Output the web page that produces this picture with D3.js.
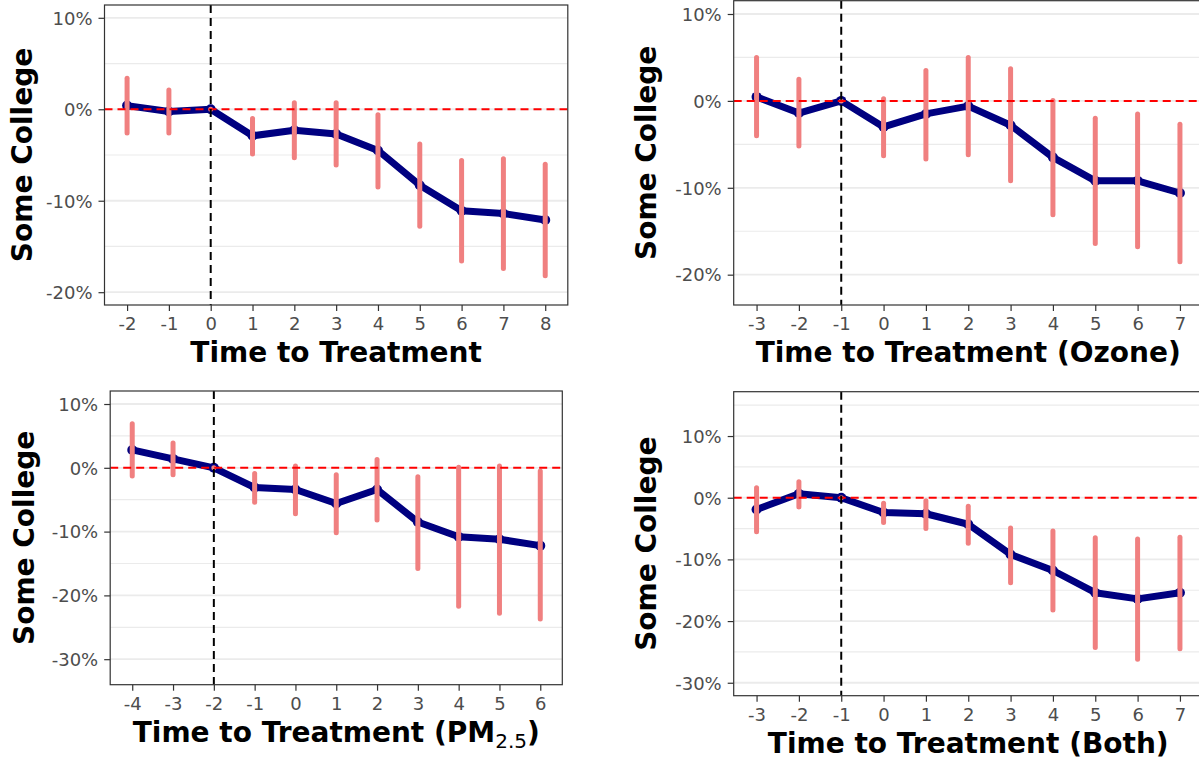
<!DOCTYPE html>
<html>
<head>
<meta charset="utf-8">
<script src="https://cdn.jsdelivr.net/npm/d3@7"></script>
<style>
  html, body { margin: 0; padding: 0; background: #fff; }
  svg { display: block; }
  text { font-family: "DejaVu Sans", sans-serif; }
</style>
</head>
<body>
<svg id="fig" width="1199" height="763"></svg>
<script>
// Event-study estimates (percent) with 95% intervals, one set per treatment definition.

// Any treatment
const periodsAll = [-2, -1, 0, 1, 2, 3, 4, 5, 6, 7, 8];
const estAll = [0.4, -0.25, 0, -2.9, -2.3, -2.7, -4.5, -8.3, -11.1, -11.4, -12.1];
const loAll  = [-2.6, -2.6, 0, -4.9, -5.3, -6.1, -8.5, -12.8, -16.6, -17.4, -18.2];
const hiAll  = [3.4, 2.1, 0, -1.0, 0.7, 0.7, -0.6, -3.8, -5.6, -5.4, -6.0];

// Ozone
const periodsOzone = [-3, -2, -1, 0, 1, 2, 3, 4, 5, 6, 7];
const estOzone = [0.46, -1.4, 0, -3.0, -1.5, -0.6, -2.8, -6.5, -9.2, -9.2, -10.6];
const loOzone  = [-4.0, -5.2, 0, -6.3, -6.7, -6.2, -9.2, -13.1, -16.4, -16.8, -18.5];
const hiOzone  = [5.0, 2.5, 0, 0.25, 3.5, 5.0, 3.7, 0.05, -2.0, -1.5, -2.7];

// PM2.5
const periodsPM = [-4, -3, -2, -1, 0, 1, 2, 3, 4, 5, 6];
const estPM = [2.8, 1.4, 0, -3.1, -3.4, -5.6, -3.4, -8.5, -10.8, -11.2, -12.2];
const loPM  = [-1.3, -1.1, 0, -5.4, -7.2, -10.2, -8.2, -15.8, -21.7, -22.8, -23.7];
const hiPM  = [6.9, 3.9, 0, -0.9, 0.3, -1.1, 1.3, -1.4, 0.1, 0.3, -0.5];

// Both pollutants
const periodsBoth = [-3, -2, -1, 0, 1, 2, 3, 4, 5, 6, 7];
const estBoth = [-1.9, 0.65, 0, -2.4, -2.6, -4.3, -9.2, -11.8, -15.4, -16.4, -15.4];
const loBoth  = [-5.5, -1.5, 0, -4.0, -5.0, -7.4, -13.8, -18.2, -24.3, -26.2, -24.5];
const hiBoth  = [1.6, 2.6, 0, -0.9, -0.5, -1.4, -4.9, -5.4, -6.5, -6.7, -6.4];

// Axis ticks
const yTicksA = [10, 0, -10, -20];
const yMinorA = [5, -5, -15];
const yTicksB = [10, 0, -10, -20, -30];
const yMinorPM = [5, -5, -15, -25];
const yMinorBoth = [15, 5, -5, -15, -25];

const ylabel = "Some College";
const xPad = 0.54; // horizontal padding around the first/last period, in periods

const panels = [
  { periods: periodsAll, est: estAll, lo: loAll, hi: hiAll, ref: 0,
    yTicks: yTicksA, yMinor: yMinorA,
    frame: { left: 104.5, right: 567.8, top: 5, bottom: 305 },
    yDomain: [-21.4, 11.4],
    title: ["Time to Treatment"], yTitleX: 32 },
  { periods: periodsOzone, est: estOzone, lo: loOzone, hi: hiOzone, ref: -1,
    yTicks: yTicksA, yMinor: yMinorA,
    frame: { left: 733.7, right: 1202.8, top: 0.7, bottom: 305 },
    yDomain: [-23.49, 11.53],
    title: ["Time to Treatment (Ozone)"], yTitleX: 656 },
  { periods: periodsPM, est: estPM, lo: loPM, hi: hiPM, ref: -2,
    yTicks: yTicksB, yMinor: yMinorPM,
    frame: { left: 110.2, right: 562.3, top: 391, bottom: 684.7 },
    yDomain: [-34.0, 12.04],
    title: ["Time to Treatment (PM", "2.5", ")"], yTitleX: 34 },
  { periods: periodsBoth, est: estBoth, lo: loBoth, hi: hiBoth, ref: -1,
    yTicks: yTicksB, yMinor: yMinorBoth,
    frame: { left: 733.7, right: 1202.8, top: 391.7, bottom: 695.7 },
    yDomain: [-32.1, 17.19],
    title: ["Time to Treatment (Both)"], yTitleX: 656 }
];

const svg = d3.select("#fig");
svg.append("rect").attr("width", 1199).attr("height", 763).attr("fill", "#fff");

panels.forEach((p, i) => {
  const f = p.frame;
  const [pMin, pMax] = d3.extent(p.periods);
  const x = d3.scaleLinear().domain([pMin - xPad, pMax + xPad]).range([f.left, f.right]);
  const y = d3.scaleLinear().domain(p.yDomain).range([f.bottom, f.top]);
  const g = svg.append("g").attr("class", "panel-" + i);

  const clipId = "clip" + i;
  g.append("clipPath").attr("id", clipId)
    .append("rect").attr("x", f.left).attr("y", f.top)
    .attr("width", f.right - f.left).attr("height", f.bottom - f.top);

  const plot = g.append("g").attr("clip-path", `url(#${clipId})`);

  // gridlines
  plot.selectAll(".minor").data(p.yMinor).join("line")
    .attr("x1", f.left).attr("x2", f.right)
    .attr("y1", d => y(d)).attr("y2", d => y(d))
    .attr("stroke", "#ebebeb").attr("stroke-width", 1.2);
  plot.selectAll(".major").data(p.yTicks).join("line")
    .attr("x1", f.left).attr("x2", f.right)
    .attr("y1", d => y(d)).attr("y2", d => y(d))
    .attr("stroke", "#ebebeb").attr("stroke-width", 1.8);

  const pts = p.periods.map((t, k) => ({ t, e: p.est[k], lo: p.lo[k], hi: p.hi[k] }));

  // estimate path
  plot.append("path").datum(pts)
    .attr("d", d3.line().x(d => x(d.t)).y(d => y(d.e)))
    .attr("fill", "none").attr("stroke", "#000080")
    .attr("stroke-width", 7).attr("stroke-linejoin", "round").attr("stroke-linecap", "round");
  plot.selectAll(".pt").data(pts).join("circle")
    .attr("cx", d => x(d.t)).attr("cy", d => y(d.e)).attr("r", 5)
    .attr("fill", "#000080");

  // confidence intervals
  plot.selectAll(".ci").data(pts).join("line")
    .attr("x1", d => x(d.t)).attr("x2", d => x(d.t))
    .attr("y1", d => y(d.lo)).attr("y2", d => y(d.hi))
    .attr("stroke", "#f08080").attr("stroke-width", 5).attr("stroke-linecap", "round");

  // zero line and treatment onset
  plot.append("line")
    .attr("x1", f.left).attr("x2", f.right).attr("y1", y(0)).attr("y2", y(0))
    .attr("stroke", "#ff0000").attr("stroke-width", 2).attr("stroke-dasharray", "8,5");
  plot.append("line")
    .attr("x1", x(p.ref)).attr("x2", x(p.ref)).attr("y1", f.top).attr("y2", f.bottom)
    .attr("stroke", "#000").attr("stroke-width", 2).attr("stroke-dasharray", "8,5");

  // panel border
  g.append("rect")
    .attr("x", f.left).attr("y", f.top)
    .attr("width", f.right - f.left).attr("height", f.bottom - f.top)
    .attr("fill", "none").attr("stroke", "#333").attr("stroke-width", 1.2);

  // x axis
  const xAxis = g.append("g").attr("transform", `translate(0,${f.bottom})`)
    .call(d3.axisBottom(x).tickValues(p.periods).tickFormat(d => String(d))
      .tickSize(6).tickSizeOuter(0).tickPadding(6));
  xAxis.select(".domain").remove();
  xAxis.selectAll(".tick line").attr("stroke", "#333").attr("stroke-width", 1.2);
  xAxis.selectAll(".tick text").attr("fill", "#4d4d4d").attr("font-size", 18)
    .attr("dy", null).attr("y", 25);

  // y axis
  const yAxis = g.append("g").attr("transform", `translate(${f.left},0)`)
    .call(d3.axisLeft(y).tickValues(p.yTicks).tickFormat(d => `${d}%`)
      .tickSize(6).tickSizeOuter(0).tickPadding(6));
  yAxis.select(".domain").remove();
  yAxis.selectAll(".tick line").attr("stroke", "#333").attr("stroke-width", 1.2);
  yAxis.selectAll(".tick text").attr("fill", "#4d4d4d").attr("font-size", 18)
    .attr("dy", "0.35em");

  // titles, centred on the panel
  const cx = (f.left + f.right) / 2;
  const xt = g.append("text").attr("x", cx).attr("y", f.bottom + 57.3)
    .attr("text-anchor", "middle").attr("font-size", 28).attr("font-weight", "bold")
    .attr("fill", "#000");
  xt.append("tspan").text(p.title[0]);
  if (p.title.length > 1) {
    xt.append("tspan").attr("font-size", 20).attr("font-weight", "normal")
      .attr("dy", 6).text(p.title[1]);
    xt.append("tspan").attr("dy", -6).text(p.title[2]);
  }

  g.append("text")
    .attr("transform", `translate(${p.yTitleX},${(f.top + f.bottom) / 2}) rotate(-90)`)
    .attr("text-anchor", "middle").attr("font-size", 28).attr("font-weight", "bold")
    .attr("fill", "#000").text(ylabel);
});
</script>
</body>
</html>
